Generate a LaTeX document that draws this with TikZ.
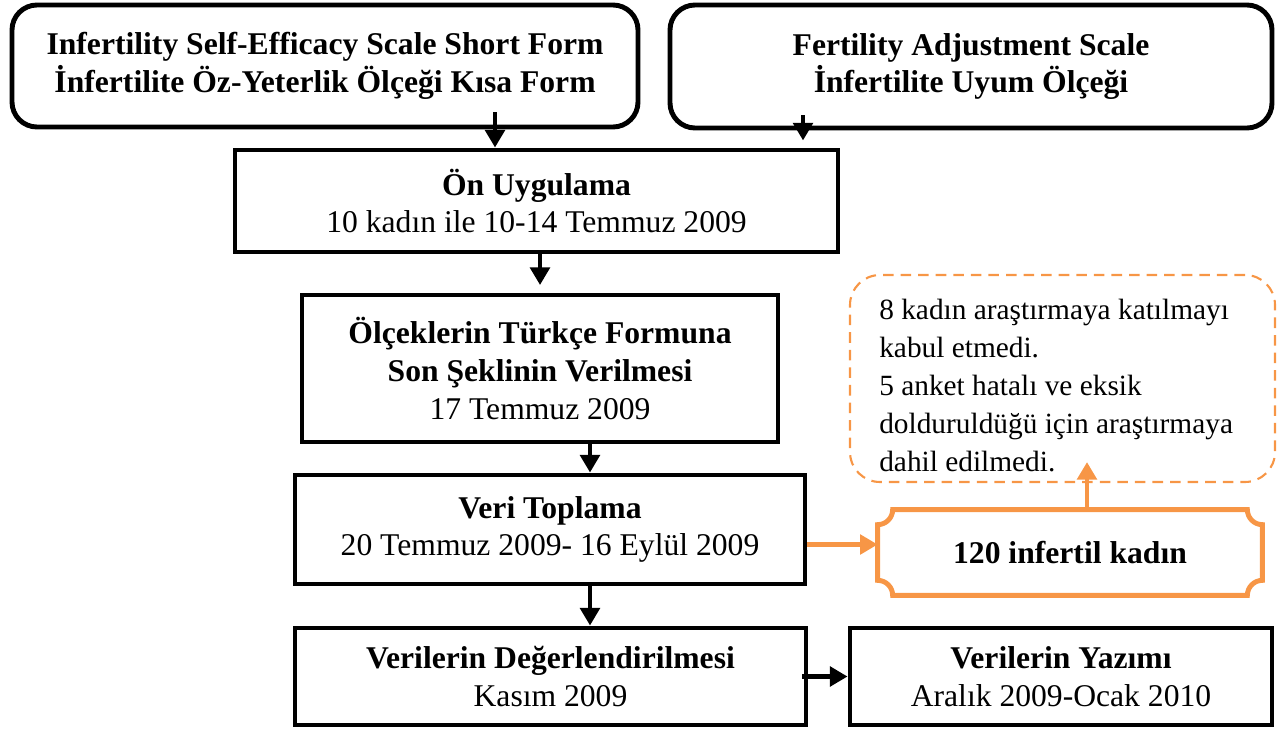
\documentclass[tikz,border=0pt]{standalone}
\usepackage{fontspec}
\setmainfont{Liberation Serif}
\usepackage{xcolor}
\usepackage{tikz}
\usetikzlibrary{positioning,arrows.meta}
\definecolor{turuncu}{HTML}{F79646}

\begin{document}
\begin{tikzpicture}[
	font=\fontsize{18}{21.5}\selectfont,
	box/.style = {draw, line width=2.8pt, align=center, inner sep=0pt},
	rbox/.style = {box, rounded corners=0.5cm},
	notbox/.style = {draw=turuncu, line width=1.2pt, dashed, dash pattern=on 6pt off 4pt, rounded corners=0.6cm, inner sep=0pt},
	nottext/.style = {font=\fontsize{16.7}{21.6}\selectfont, align=left, inner sep=0pt},
	arr/.style = {line width=2.6pt, -{Triangle[length=10pt,width=11pt]}},
	oarr/.style = {arr, draw=turuncu, fill=turuncu}]
	\useasboundingbox (0,0) rectangle (25.54,-14.58);

	\node[rbox, minimum width=12.52cm, minimum height=2.44cm] (isef) at (6.5,-1.32)
		{\textbf{Infertility Self-Efficacy Scale Short Form}\\ \textbf{İnfertilite Öz-Yeterlik Ölçeği Kısa Form}};
	\node[rbox, minimum width=12.04cm, minimum height=2.46cm] (fas) at (19.42,-1.33)
		{\textbf{Fertility Adjustment Scale}\\ \textbf{İnfertilite Uyum Ölçeği}};
	\node[box, minimum width=12.06cm, minimum height=2.04cm] (on) at (10.73,-4.02)
		{\textbf{Ön Uygulama}\\ 10 kadın ile 10-14 Temmuz 2009};
	\node[box, minimum width=9.52cm, minimum height=2.94cm] (olcek) at (10.8,-7.37)
		{\textbf{Ölçeklerin Türkçe Formuna}\\ \textbf{Son Şeklinin Verilmesi}\\ 17 Temmuz 2009};
	\node[box, minimum width=10.2cm, minimum height=2.18cm] (veri) at (11.0,-10.59)
		{\textbf{Veri Toplama}\\ 20 Temmuz 2009- 16 Eylül 2009};
	\node[box, minimum width=10.22cm, minimum height=1.94cm] (deger) at (11.01,-13.53)
		{\textbf{Verilerin Değerlendirilmesi}\\ Kasım 2009};
	\node[box, minimum width=8.44cm, minimum height=1.94cm] (yazim) at (21.22,-13.53)
		{\textbf{Verilerin Yazımı}\\ Aralık 2009-Ocak 2010};
	\node[minimum width=7.68cm, minimum height=1.7cm] (kadin) at (21.4,-11.05)
		{\textbf{120 infertil kadın}};
	\node[notbox, minimum width=8.5cm, minimum height=4.14cm] (not) at (21.25,-7.57) {};
	\node[nottext, anchor=north west] (notmetin) at ([shift={(0.6,-0.5)}]not.north west)
		{8 kadın araştırmaya katılmayı\\ kabul etmedi.\\ 5 anket hatalı ve eksik\\ dolduruldüğü için araştırmaya\\ dahil edilmedi.};

	% concave corners of the orange box
	\draw[turuncu, line width=2.8pt] ([xshift=0.3cm]kadin.north west) -- ([xshift=-0.3cm]kadin.north east)
		arc (180:270:0.3cm) -- ([yshift=0.3cm]kadin.south east)
		arc (90:180:0.3cm) -- ([xshift=0.3cm]kadin.south west)
		arc (0:90:0.3cm) -- ([yshift=-0.3cm]kadin.north west)
		arc (270:360:0.3cm) -- cycle;

	\coordinate (isefuc) at ([shift={(3.4,0.34)}]isef.south);
	\coordinate (fasuc) at ([shift={(-3.36,-0.2)}]fas.south);
	\coordinate (veriuc) at ([yshift=-0.3cm]veri.east);
	\draw[arr] (isefuc) -- (isefuc |- on.north);
	\draw[arr] ([shift={(-3.36,0.3)}]fas.south) -- (fasuc);
	\draw[arr] (on.south -| olcek.north) -- ([yshift=0.15cm]olcek.north);
	\draw[arr] ([xshift=1cm]olcek.south) -- ([xshift=1cm]olcek.south |- veri.north);
	\draw[arr] ([xshift=0.8cm]veri.south) -- ([xshift=0.8cm]veri.south |- deger.north);
	\draw[arr] ([xshift=-0.12cm]deger.east) -- (yazim.west);
	\draw[oarr] (veriuc) -- (kadin.west |- veriuc);
	\draw[oarr] ([xshift=0.34cm]kadin.north) -- ([xshift=0.34cm, yshift=0.42cm]kadin.north |- not.south);
\end{tikzpicture}
\end{document}
